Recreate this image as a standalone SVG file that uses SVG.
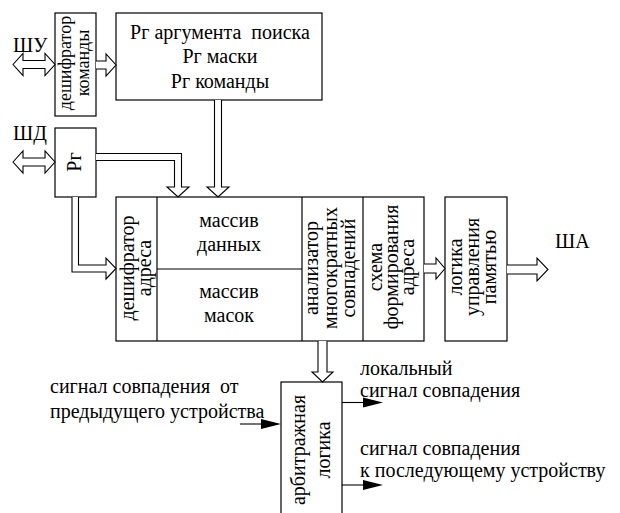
<svg xmlns="http://www.w3.org/2000/svg" width="620" height="513" viewBox="0 0 620 513">
<rect width="620" height="513" fill="#fff"/>

<g id="bus-labels">
<text x="13" y="52" font-family="Liberation Serif" font-size="20" style="font-family:'Liberation Serif'">ШУ</text>
<text x="13" y="140" font-family="Liberation Serif" font-size="20" style="font-family:'Liberation Serif'">ШД</text>
<text x="555" y="248" font-family="Liberation Serif" font-size="20" style="font-family:'Liberation Serif'">ША</text>
</g>

<g id="cmd-decoder">
<rect x="55" y="13" width="41" height="103" fill="#fff" stroke="#000" stroke-width="1.2"/>
<text text-anchor="middle" font-family="Liberation Serif" font-size="18" style="font-family:'Liberation Serif'" transform="translate(71,63) rotate(-90)">дешифратор</text>
<text text-anchor="middle" font-family="Liberation Serif" font-size="18" style="font-family:'Liberation Serif'" transform="translate(88.5,63) rotate(-90)">команды</text>
</g>

<g id="registers">
<rect x="116" y="13" width="206" height="87" fill="#fff" stroke="#000" stroke-width="1.2"/>
<text text-anchor="middle" x="220" y="39" font-family="Liberation Serif" font-size="20" style="font-family:'Liberation Serif'">Рг аргумента&#160; поиска</text>
<text text-anchor="middle" x="220" y="63" font-family="Liberation Serif" font-size="20" style="font-family:'Liberation Serif'">Рг маски</text>
<text text-anchor="middle" x="220" y="88" font-family="Liberation Serif" font-size="20" style="font-family:'Liberation Serif'">Рг команды</text>
</g>

<g id="data-reg">
<rect x="55" y="128" width="41" height="69" fill="#fff" stroke="#000" stroke-width="1.2"/>
<text text-anchor="middle" font-family="Liberation Serif" font-size="20" style="font-family:'Liberation Serif'" transform="translate(81,162) rotate(-90)">Рг</text>
</g>

<g id="main-block" stroke="#000" stroke-width="1.2">
<rect x="116" y="197" width="308" height="144" fill="#fff"/>
<line x1="157" y1="197" x2="157" y2="341"/>
<line x1="302" y1="197" x2="302" y2="341"/>
<line x1="363" y1="197" x2="363" y2="341"/>
<line x1="157" y1="269" x2="302" y2="269"/>
</g>

<g id="addr-decoder">
<text text-anchor="middle" font-family="Liberation Serif" font-size="20" style="font-family:'Liberation Serif'" transform="translate(134,268) rotate(-90)">дешифратор</text>
<text text-anchor="middle" font-family="Liberation Serif" font-size="20" style="font-family:'Liberation Serif'" transform="translate(151,268) rotate(-90)">адреса</text>
</g>

<g id="data-array">
<text text-anchor="middle" x="229" y="227" font-family="Liberation Serif" font-size="20" style="font-family:'Liberation Serif'">массив</text>
<text text-anchor="middle" x="229" y="251" font-family="Liberation Serif" font-size="20" style="font-family:'Liberation Serif'">данных</text>
</g>

<g id="mask-array">
<text text-anchor="middle" x="229" y="298" font-family="Liberation Serif" font-size="20" style="font-family:'Liberation Serif'">массив</text>
<text text-anchor="middle" x="229" y="322" font-family="Liberation Serif" font-size="20" style="font-family:'Liberation Serif'">масок</text>
</g>

<g id="analyzer">
<text text-anchor="middle" font-family="Liberation Serif" font-size="20" style="font-family:'Liberation Serif'" transform="translate(318,268) rotate(-90)">анализатор</text>
<text text-anchor="middle" font-family="Liberation Serif" font-size="20" style="font-family:'Liberation Serif'" transform="translate(337,268) rotate(-90)">многократных</text>
<text text-anchor="middle" font-family="Liberation Serif" font-size="20" style="font-family:'Liberation Serif'" transform="translate(355,268) rotate(-90)">совпадений</text>
</g>

<g id="addr-former">
<text text-anchor="middle" font-family="Liberation Serif" font-size="20" style="font-family:'Liberation Serif'" transform="translate(382,267) rotate(-90)">схема</text>
<text text-anchor="middle" font-family="Liberation Serif" font-size="20" style="font-family:'Liberation Serif'" transform="translate(398,267) rotate(-90)">формирования</text>
<text text-anchor="middle" font-family="Liberation Serif" font-size="20" style="font-family:'Liberation Serif'" transform="translate(414,267) rotate(-90)">адреса</text>
</g>

<g id="mem-logic">
<rect x="445" y="197" width="62" height="144" fill="#fff" stroke="#000" stroke-width="1.2"/>
<text text-anchor="middle" font-family="Liberation Serif" font-size="20" style="font-family:'Liberation Serif'" transform="translate(462,267) rotate(-90)">логика</text>
<text text-anchor="middle" font-family="Liberation Serif" font-size="20" style="font-family:'Liberation Serif'" transform="translate(479,267) rotate(-90)">управления</text>
<text text-anchor="middle" font-family="Liberation Serif" font-size="20" style="font-family:'Liberation Serif'" transform="translate(496,267) rotate(-90)">памятью</text>
</g>

<g id="arbiter">
<rect x="281" y="382" width="61" height="140" fill="#fff" stroke="#000" stroke-width="1.2"/>
<text text-anchor="middle" font-family="Liberation Serif" font-size="20" style="font-family:'Liberation Serif'" transform="translate(305,450) rotate(-90)">арбитражная</text>
<text text-anchor="middle" font-family="Liberation Serif" font-size="20" style="font-family:'Liberation Serif'" transform="translate(330,450) rotate(-90)">логика</text>
</g>

<g id="signal-labels">
<text x="50" y="393" font-family="Liberation Serif" font-size="20" style="font-family:'Liberation Serif'">сигнал совпадения&#160; от</text>
<text x="50" y="418" font-family="Liberation Serif" font-size="20" style="font-family:'Liberation Serif'">предыдущего устройства</text>
<text x="360" y="375" font-family="Liberation Serif" font-size="20" style="font-family:'Liberation Serif'">локальный</text>
<text x="360" y="397" font-family="Liberation Serif" font-size="20" style="font-family:'Liberation Serif'">сигнал совпадения</text>
<text x="360" y="455" font-family="Liberation Serif" font-size="20" style="font-family:'Liberation Serif'">сигнал совпадения</text>
<text x="360" y="477" font-family="Liberation Serif" font-size="20" style="font-family:'Liberation Serif'">к последующему устройству</text>
</g>

<g id="connectors" fill="#fff" stroke="#000" stroke-width="1.1">
<path d="M13,64.5 L23,53.5 V60.5 H45 V53.5 L55,64.5 L45,75.5 V68.5 H23 V75.5 Z"/>
<path d="M13,162 L23,151 V158 H45 V151 L55,162 L45,173 V166 H23 V173 Z"/>
<path d="M96,61 H106 V54 L116,65 L106,76 V69 H96"/>
<path d="M214.5,100 V187 H207 L218,197 L229,187 H221.5 V100"/>
<path d="M96,153.5 H181.5 V187 H189 L178,197 L167,187 H174.5 V160.5 H96"/>
<path d="M72,197 V272 H106 V279 L116,268.5 L106,258 V265 H78.5 V197"/>
<path d="M424,264 H436 V258 L445,268.5 L436,279 V273 H424"/>
<path d="M507,265 H537 V258 L548,269.5 L537,281 V274 H507"/>
<path d="M318,341 V372 H312 L322.5,382 L333,372 H327 V341"/>
<line x1="240" y1="424" x2="262" y2="424"/>
<line x1="342" y1="402.5" x2="364" y2="402.5"/>
<line x1="342" y1="485" x2="364" y2="485"/>
<path d="M261,419 L281,424 L261,429 Z" fill="#000" stroke="none"/>
<path d="M363,397.5 L383,402.5 L363,407.5 Z" fill="#000" stroke="none"/>
<path d="M363,480 L383,485 L363,490 Z" fill="#000" stroke="none"/>
</g>
</svg>
